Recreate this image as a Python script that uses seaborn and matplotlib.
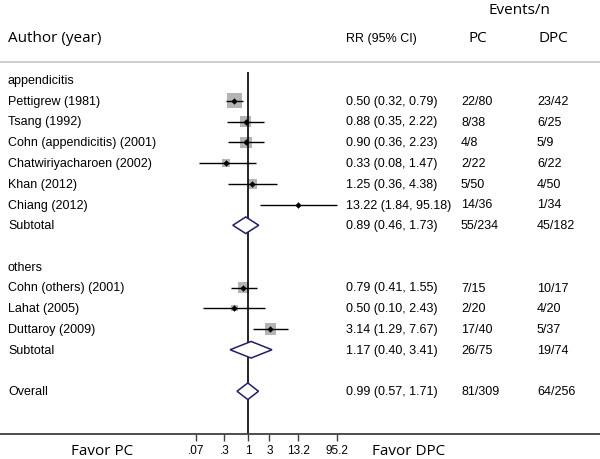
import numpy as np
import pandas as pd
import matplotlib
matplotlib.use("Agg")
import matplotlib.pyplot as plt
import matplotlib.transforms as mtransforms
from matplotlib.patches import Polygon
import seaborn as sns

# --- data ---
labels = ["appendicitis",
          "Pettigrew (1981)", "Tsang (1992)", "Cohn (appendicitis) (2001)",
          "Chatwiriyacharoen (2002)", "Khan (2012)", "Chiang (2012)", "Subtotal",
          "",
          "others",
          "Cohn (others) (2001)", "Lahat (2005)", "Duttaroy (2009)", "Subtotal",
          "",
          "Overall"]
kind = ["group", "study", "study", "study", "study", "study", "study", "sub",
        "blank", "group", "study", "study", "study", "sub", "blank", "sub"]
rr = [np.nan, 0.50, 0.88, 0.90, 0.33, 1.25, 13.22, 0.89,
      np.nan, np.nan, 0.79, 0.50, 3.14, 1.17, np.nan, 0.99]
lo = [np.nan, 0.32, 0.35, 0.36, 0.08, 0.36, 1.84, 0.46,
      np.nan, np.nan, 0.41, 0.10, 1.29, 0.40, np.nan, 0.57]
hi = [np.nan, 0.79, 2.22, 2.23, 1.47, 4.38, 95.18, 1.73,
      np.nan, np.nan, 1.55, 2.43, 7.67, 3.41, np.nan, 1.71]
pc = ["", "22/80", "8/38", "4/8", "2/22", "5/50", "14/36", "55/234",
      "", "", "7/15", "2/20", "17/40", "26/75", "", "81/309"]
dpc = ["", "23/42", "6/25", "5/9", "6/22", "4/50", "1/34", "45/182",
       "", "", "10/17", "4/20", "5/37", "19/74", "", "64/256"]
# approximate study weights (%), only used for the grey square size
weight = [0, 30, 18, 18, 9, 13, 1, 0, 0, 0, 18, 6, 17, 0, 0, 0]
tick_vals = [0.07, 0.3, 1, 3, 13.2, 95.2]
tick_labels = [".07", ".3", "1", "3", "13.2", "95.2"]

df = pd.DataFrame({"label": labels, "kind": kind, "rr": rr, "lo": lo, "hi": hi,
                   "pc": pc, "dpc": dpc, "weight": weight})
df["row"] = np.arange(len(df))

sns.set_style("white")
plt.rcParams["font.family"] = ["Liberation Sans", "DejaVu Sans"]
plt.rcParams["text.color"] = "black"
plt.rcParams["xtick.color"] = "black"
head_font = ["Open Sans", "DejaVu Sans"]

W, H = 600, 460
fig = plt.figure(figsize=(6, 4.6), dpi=100)
ax = fig.add_axes([0, 25 / H, 1, 375 / H])

# pixel -> data helpers for the layout
row_px = lambda y: (y - 81) / 20.75
ax.set_xscale("log")
ax.set_xlim(10 ** (-248 / 45), 10 ** (352 / 45))
ax.set_ylim(row_px(435), row_px(60))

trans = mtransforms.blended_transform_factory(ax.transAxes, ax.transData)
fx = lambda x: x / W

studies = df[df["kind"] == "study"]
subs = df[df["kind"] == "sub"]

# confidence interval lines
ax.hlines(studies["row"], studies["lo"], studies["hi"], color="black", lw=1.0, zorder=2)

# grey weight squares and point estimates
sns.scatterplot(data=studies, x="rr", y="row", size="weight", sizes=(2, 115),
                marker="s", color="#b4b4b4", edgecolor="none", legend=False,
                ax=ax, zorder=1)
sns.scatterplot(data=studies, x="rr", y="row", marker="D", s=9, color="black",
                edgecolor="black", legend=False, ax=ax, zorder=3)

# pooled estimates as diamonds
for _, r in subs.iterrows():
    y = r["row"]
    poly = Polygon([(r["lo"], y), (r["rr"], y - 0.4), (r["hi"], y), (r["rr"], y + 0.4)],
                   closed=True, facecolor="white", edgecolor="#1f1f6b", lw=1.1, zorder=4)
    ax.add_patch(poly)

# line of no effect
ax.vlines(1, row_px(73), row_px(435), color="black", lw=1.2, zorder=1)

# header separator
ax.plot([0, 1], [row_px(63)] * 2, transform=trans, color="#c4c4c4", lw=1.2, clip_on=False)

# text columns
for _, r in df.iterrows():
    y = r["row"]
    ax.text(fx(8), y, r["label"], transform=trans, ha="left", va="center", fontsize=9)
    if not np.isnan(r["rr"]):
        ax.text(fx(346), y, f"{r['rr']:.2f} ({r['lo']:.2f}, {r['hi']:.2f})",
                transform=trans, ha="left", va="center", fontsize=9)
    ax.text(fx(461), y, r["pc"], transform=trans, ha="left", va="center", fontsize=9)
    ax.text(fx(537), y, r["dpc"], transform=trans, ha="left", va="center", fontsize=9)

# headers
ax.text(fx(8), row_px(39), "Author (year)", transform=trans, ha="left", va="center",
        fontsize=11, family=head_font)
ax.text(fx(346), row_px(39), "RR (95% CI)", transform=trans, ha="left", va="center", fontsize=9)
ax.text(fx(478), row_px(39), "PC", transform=trans, ha="center", va="center",
        fontsize=11, family=head_font)
ax.text(fx(553), row_px(39), "DPC", transform=trans, ha="center", va="center",
        fontsize=11, family=head_font)
ax.text(fx(519), row_px(11), "Events/n", transform=trans, ha="center", va="center",
        fontsize=11, family=head_font)
ax.text(fx(102), row_px(451), "Favor PC", transform=trans, ha="center", va="center",
        fontsize=11, family=head_font)
ax.text(fx(409), row_px(451), "Favor DPC", transform=trans, ha="center", va="center",
        fontsize=11, family=head_font)

# axis styling
sns.despine(ax=ax, left=True, top=True, right=True)
ax.spines["bottom"].set_color("#404040")
ax.spines["bottom"].set_linewidth(1.3)
ax.set_yticks([])
ax.set_xticks(tick_vals)
ax.set_xticklabels(tick_labels)
ax.xaxis.set_minor_locator(matplotlib.ticker.NullLocator())
ax.tick_params(axis="x", direction="out", length=5, width=1, color="#404040",
               labelsize=8.5, labelcolor="black", pad=2, bottom=True)
ax.set_xlabel("")
ax.set_ylabel("")

fig.savefig("out.png", dpi=100)
